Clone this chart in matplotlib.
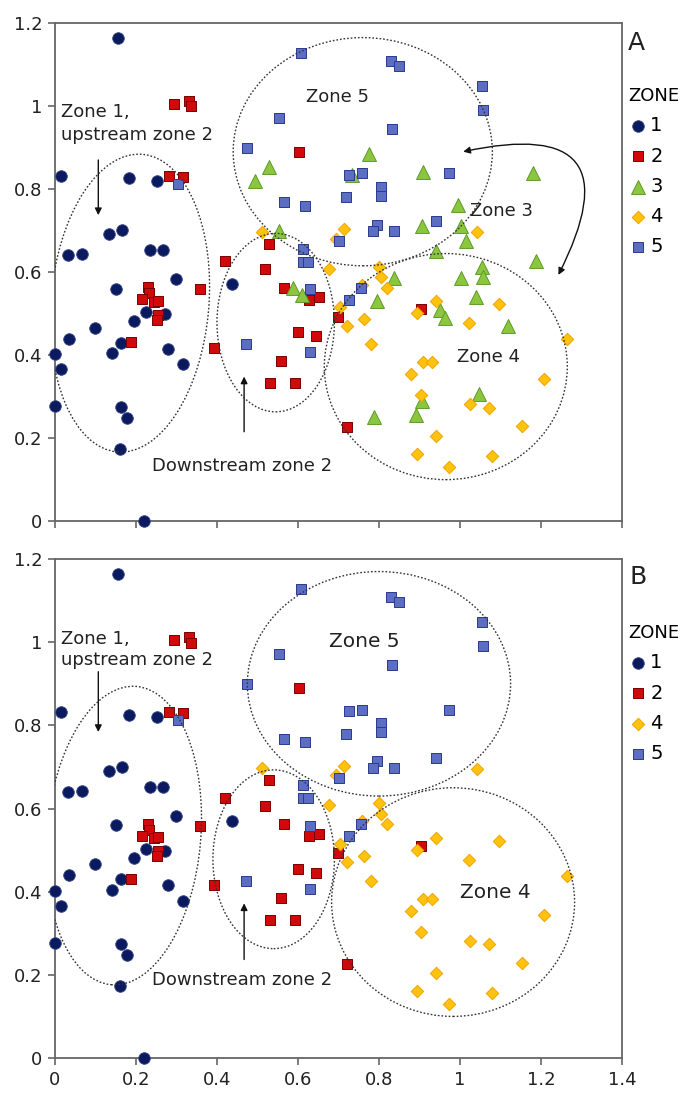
import numpy as np
import matplotlib
matplotlib.use('Agg')
import matplotlib.pyplot as plt
from matplotlib.patches import Ellipse

plt.rcParams['font.family'] = ['DejaVu Sans']

# zone 1 (navy circles)
z1_x = [0.156, 0.015, 0.182, 0.253, 0.134, 0.166, 0.031, 0.067, 0.235, 0.267,
        0.300, 0.150, 0.225, 0.196, 0.271, 0.099, 0.034, 0.0, 0.015, 0.142,
        0.162, 0.280, 0.315, 0.0, 0.163, 0.179, 0.160, 0.220, 0.437]
z1_y = [1.165, 0.831, 0.826, 0.820, 0.691, 0.701, 0.640, 0.643, 0.652, 0.652,
        0.582, 0.560, 0.503, 0.482, 0.498, 0.466, 0.439, 0.402, 0.365, 0.405,
        0.430, 0.415, 0.378, 0.277, 0.274, 0.247, 0.174, 0.0, 0.570]

# zone 2 (red squares)
z2_x = [0.294, 0.330, 0.336, 0.282, 0.315, 0.602, 0.528, 0.421, 0.519, 0.230,
        0.231, 0.216, 0.245, 0.255, 0.255, 0.251, 0.187, 0.358, 0.393, 0.565,
        0.626, 0.651, 0.601, 0.645, 0.559, 0.531, 0.592, 0.700, 0.904, 0.722]
z2_y = [1.006, 1.012, 0.999, 0.832, 0.829, 0.890, 0.668, 0.626, 0.607, 0.563,
        0.549, 0.535, 0.528, 0.531, 0.497, 0.485, 0.431, 0.558, 0.417, 0.562,
        0.533, 0.539, 0.455, 0.446, 0.385, 0.332, 0.333, 0.492, 0.511, 0.227]

# zone 3 (green triangles, panel A only)
z3_x = [0.495, 0.529, 0.553, 0.775, 0.909, 1.181, 0.733, 0.996, 0.907, 1.002,
        1.014, 0.941, 1.188, 1.054, 1.058, 1.002, 0.837, 0.794, 1.040, 0.951,
        0.963, 1.118, 1.048, 0.905, 0.891, 0.787, 0.587, 0.609]
z3_y = [0.819, 0.854, 0.700, 0.884, 0.840, 0.838, 0.834, 0.761, 0.711, 0.711,
        0.675, 0.651, 0.627, 0.611, 0.589, 0.585, 0.585, 0.530, 0.539, 0.508,
        0.488, 0.470, 0.306, 0.290, 0.255, 0.251, 0.562, 0.545]

# zone 4 (yellow diamonds)
z4_x = [0.512, 0.677, 0.694, 0.714, 1.043, 0.799, 0.806, 0.821, 0.759, 0.704,
        0.720, 0.763, 0.780, 0.894, 0.942, 1.022, 1.096, 1.265, 0.909, 0.932,
        0.879, 1.208, 0.904, 1.024, 1.072, 1.153, 0.940, 0.895, 1.079, 0.972]
z4_y = [0.697, 0.608, 0.680, 0.703, 0.696, 0.613, 0.587, 0.562, 0.569, 0.515,
        0.471, 0.486, 0.426, 0.501, 0.530, 0.477, 0.522, 0.438, 0.382, 0.382,
        0.353, 0.343, 0.303, 0.282, 0.273, 0.228, 0.204, 0.161, 0.157, 0.131]

# zone 5 (blue squares)
z5_x = [0.305, 0.608, 0.553, 0.475, 0.565, 0.617, 0.613, 0.613, 0.625, 0.702,
        0.829, 0.850, 1.055, 1.058, 0.832, 0.725, 0.758, 0.804, 0.804, 0.974,
        0.719, 0.795, 0.786, 0.838, 0.942, 0.472, 0.630, 0.630, 0.727, 0.755]
z5_y = [0.8125, 1.127, 0.972, 0.899, 0.768, 0.759, 0.656, 0.625, 0.625, 0.674,
        1.109, 1.097, 1.048, 0.990, 0.945, 0.835, 0.838, 0.805, 0.784, 0.838,
        0.780, 0.714, 0.698, 0.698, 0.722, 0.426, 0.558, 0.406, 0.533, 0.562]

x_ticks = [0, 0.2, 0.4, 0.6, 0.8, 1, 1.2, 1.4]
x_labels = ['0', '0.2', '0.4', '0.6', '0.8', '1', '1.2', '1.4']
y_ticks = [0, 0.2, 0.4, 0.6, 0.8, 1, 1.2]
y_labels = ['0', '0.2', '0.4', '0.6', '0.8', '1', '1.2']

styles = {
    '1': dict(marker='o', s=70, c='#0b1a5e', edgecolors='#3a4a8a', linewidths=0.6),
    '2': dict(marker='s', s=46, c='#d00a0a', edgecolors='#7a0000', linewidths=0.7),
    '3': dict(marker='^', s=100, c='#8cc63f', edgecolors='#5d9a2a', linewidths=0.7),
    '4': dict(marker='D', s=40, c='#ffc20e', edgecolors='#f0a500', linewidths=0.7),
    '5': dict(marker='s', s=46, c='#5b6ec2', edgecolors='#2b3a8f', linewidths=0.7),
}

fig = plt.figure(figsize=(6.82, 10.99), dpi=100)
ax_a = fig.add_axes([0.0806, 0.526, 0.8314, 0.453])
ax_b = fig.add_axes([0.0806, 0.0373, 0.8314, 0.454])

zones_a = [('1', z1_x, z1_y), ('2', z2_x, z2_y), ('3', z3_x, z3_y),
           ('4', z4_x, z4_y), ('5', z5_x, z5_y)]
zones_b = [('1', z1_x, z1_y), ('2', z2_x, z2_y),
           ('4', z4_x, z4_y), ('5', z5_x, z5_y)]

ell_kw = dict(fill=False, ls=(0, (1.2, 1.4)), lw=1.0, ec='#333333', zorder=4)


def setup(ax, zones, legend_y):
    for name, xs, ys in zones:
        ax.scatter(xs, ys, label=name, zorder=3, clip_on=False, **styles[name])
    ax.set_xlim(0, 1.4)
    ax.set_ylim(0, 1.2)
    ax.set_xticks(x_ticks)
    ax.set_yticks(y_ticks)
    ax.set_yticklabels(y_labels)
    for sp in ax.spines.values():
        sp.set_color('#666666')
        sp.set_linewidth(1.3)
    ax.tick_params(direction='out', length=5, width=1.2, color='#666666',
                   labelsize=13, labelcolor='#222222', pad=4)
    leg = ax.legend(title='ZONE', loc='upper left',
                    bbox_to_anchor=(628 / 682, legend_y),
                    bbox_transform=fig.transFigure, frameon=False,
                    borderpad=0, handlelength=1.0, handletextpad=0.15,
                    labelspacing=0.58, fontsize=14, title_fontsize=13,
                    borderaxespad=0)
    leg._legend_box.align = 'left'


setup(ax_a, zones_a, 1 - 87 / 1099)
setup(ax_b, zones_b, 1 - 624 / 1099)
ax_a.set_xticklabels([])
ax_b.set_xticklabels(x_labels)

arrow_kw = dict(arrowstyle='-|>', color='#111111', lw=1.0, mutation_scale=10,
                shrinkA=0, shrinkB=0)

# panel A annotations
ax_a.add_patch(Ellipse((0.185, 0.525), 0.39, 0.72, angle=-5, **ell_kw))
ax_a.add_patch(Ellipse((0.545, 0.478), 0.29, 0.43, **ell_kw))
ax_a.add_patch(Ellipse((0.76, 0.89), 0.64, 0.55, **ell_kw))
ax_a.add_patch(Ellipse((0.965, 0.372), 0.60, 0.545, **ell_kw))
ax_a.text(0.016, 1.008, 'Zone 1,\nupstream zone 2', fontsize=13, va='top',
          linespacing=1.35, color='#222222')
ax_a.annotate('', xy=(0.107, 0.737), xytext=(0.107, 0.87), arrowprops=arrow_kw)
ax_a.text(0.239, 0.1325, 'Downstream zone 2', fontsize=13, va='center', color='#222222')
ax_a.annotate('', xy=(0.467, 0.348), xytext=(0.467, 0.215), arrowprops=arrow_kw)
ax_a.text(0.62, 1.022, 'Zone 5', fontsize=13, va='center', color='#222222')
ax_a.text(1.025, 0.748, 'Zone 3', fontsize=13, va='center', color='#222222')
ax_a.text(0.993, 0.396, 'Zone 4', fontsize=13, va='center', color='#222222')
ax_a.annotate('', xy=(1.008, 0.89), xytext=(1.243, 0.593),
              arrowprops=dict(arrowstyle='<|-|>', color='#111111', lw=1.0,
                              mutation_scale=10, shrinkA=0, shrinkB=0,
                              connectionstyle='arc3,rad=1.05'))

# panel B annotations
ax_b.add_patch(Ellipse((0.17, 0.535), 0.38, 0.72, angle=-5, **ell_kw))
ax_b.add_patch(Ellipse((0.54, 0.478), 0.30, 0.43, **ell_kw))
ax_b.add_patch(Ellipse((0.80, 0.90), 0.65, 0.54, **ell_kw))
ax_b.add_patch(Ellipse((0.983, 0.375), 0.60, 0.55, **ell_kw))
ax_b.text(0.016, 1.03, 'Zone 1,\nupstream zone 2', fontsize=13, va='top',
          linespacing=1.25, color='#222222')
ax_b.annotate('', xy=(0.107, 0.784), xytext=(0.107, 0.929), arrowprops=arrow_kw)
ax_b.text(0.239, 0.1875, 'Downstream zone 2', fontsize=13, va='center', color='#222222')
ax_b.annotate('', xy=(0.467, 0.372), xytext=(0.467, 0.237), arrowprops=arrow_kw)
ax_b.text(0.677, 1.001, 'Zone 5', fontsize=14.5, va='center', color='#222222')
ax_b.text(1.0, 0.397, 'Zone 4', fontsize=14.5, va='center', color='#222222')

fig.text(628 / 682, 1 - 43 / 1099, 'A', fontsize=18, va='center', color='#222222')
fig.text(630 / 682, 1 - 577 / 1099, 'B', fontsize=18, va='center', color='#222222')

fig.savefig('out.png', dpi=100)
